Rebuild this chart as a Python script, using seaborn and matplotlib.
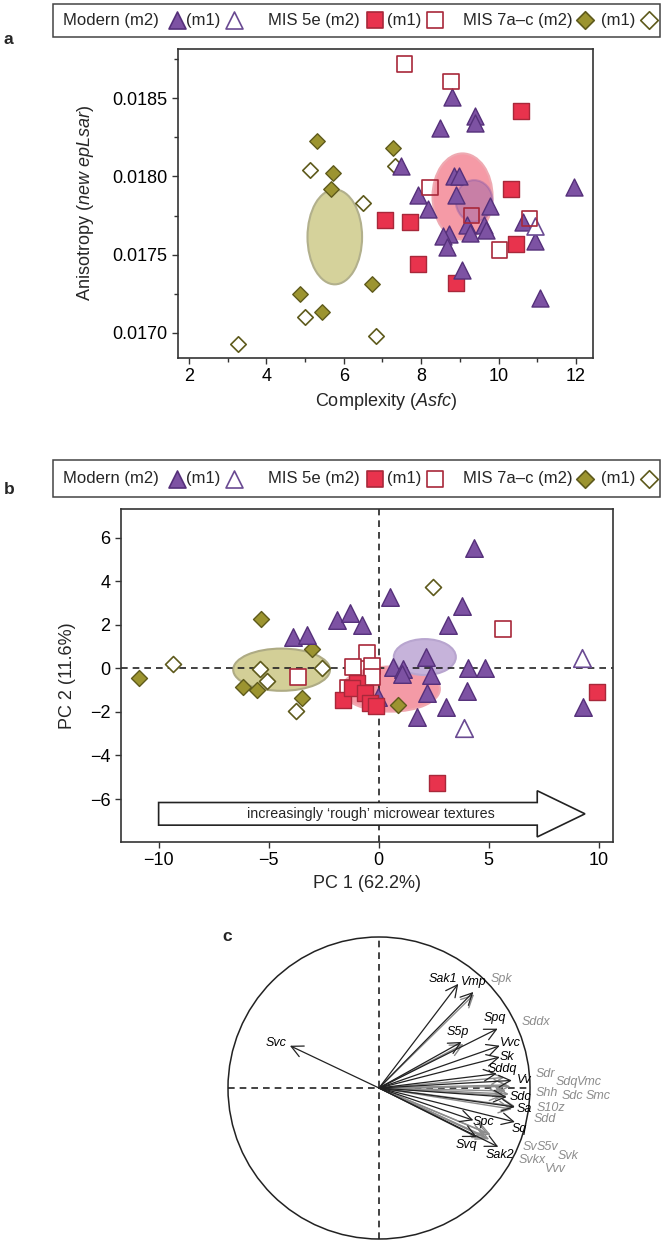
import numpy as np
import pandas as pd
import seaborn as sns
import matplotlib.pyplot as plt
from matplotlib.patches import Ellipse, Circle, FancyArrow, Rectangle

sns.set_theme(style='ticks')
plt.rcParams['font.family'] = ['Liberation Sans', 'DejaVu Sans']
plt.rcParams['mathtext.fontset'] = 'custom'
plt.rcParams['mathtext.it'] = 'Liberation Sans:italic'
plt.rcParams['mathtext.rm'] = 'Liberation Sans'

# ---------------- panel a : complexity vs anisotropy ----------------
a_mod_m2_x = [8.79, 9.39, 9.39, 8.48, 7.47, 8.86, 8.98, 8.89, 7.92, 8.18, 9.78, 9.18,
              9.63, 9.67, 9.27, 10.64, 8.72, 8.57, 8.66, 10.93, 9.06, 11.94, 11.06]
a_mod_m2_y = [0.01851, 0.01839, 0.01834, 0.01831, 0.01807, 0.01800, 0.01800, 0.01788,
              0.01788, 0.01779, 0.01781, 0.01769, 0.01769, 0.01766, 0.01764, 0.01771,
              0.01763, 0.01762, 0.01755, 0.01759, 0.01740, 0.01793, 0.01722]
a_mod_m1_x = [10.95]
a_mod_m1_y = [0.01768]
a_5e_m2_x = [10.58, 10.32, 7.06, 7.72, 10.45, 7.92, 8.89]
a_5e_m2_y = [0.01842, 0.01792, 0.01772, 0.01771, 0.01757, 0.01744, 0.01732]
a_5e_m1_x = [7.58, 8.77, 8.23, 9.31, 10.80, 10.02]
a_5e_m1_y = [0.01872, 0.01861, 0.01793, 0.01775, 0.01773, 0.01753]
a_7_m2_x = [5.32, 7.28, 5.72, 5.68, 6.72, 4.88, 5.45]
a_7_m2_y = [0.01823, 0.01818, 0.01802, 0.01792, 0.01731, 0.01725, 0.01713]
a_7_m1_x = [5.12, 6.50, 5.00, 6.84, 3.26, 7.32]
a_7_m1_y = [0.01804, 0.01783, 0.01710, 0.01698, 0.01693, 0.01807]
# group mean ellipses: centre x, centre y, width, height
a_ell_7 = [5.77, 0.017613, 1.41, 0.000607]
a_ell_5e = [9.07, 0.017872, 1.55, 0.000551]
a_ell_mod = [9.37, 0.017843, 0.95, 0.000267]

# ---------------- panel b : PCA scores ----------------
b_mod_m2_x = [-3.91, -3.25, -1.91, -1.30, -0.77, 0.51, 4.33, 3.77, 3.16, 2.14, 0.66, 1.09,
              1.05, 2.38, 4.05, 4.83, 2.18, 4.00, 3.06, 1.73, 9.27, -0.02]
b_mod_m2_y = [1.45, 1.53, 2.22, 2.53, 1.99, 3.29, 5.54, 2.88, 1.99, 0.53, 0.07, -0.05,
              -0.25, -0.31, 0.00, 0.03, -1.15, -1.03, -1.76, -2.22, -1.76, -1.30]
b_mod_m1_x = [9.23, 3.89]
b_mod_m1_y = [0.46, -2.76]
b_5e_m2_x = [-1.00, -1.61, -1.23, -0.62, -0.40, -0.14, 9.91, 2.64]
b_5e_m2_y = [-0.69, -1.46, -0.92, -1.15, -1.61, -1.72, -1.07, -5.25]
b_5e_m1_x = [-3.68, -0.52, -1.15, -0.32, -1.38, -0.32, 5.66]
b_5e_m1_y = [-0.41, 0.72, 0.05, 0.10, -0.89, -0.38, 1.79]
b_7_m2_x = [-10.90, -5.36, -3.02, -6.15, -5.55, -3.47, 0.89]
b_7_m2_y = [-0.43, 2.26, 0.87, -0.84, -0.97, -1.38, -1.69]
b_7_m1_x = [-9.34, -5.40, -5.09, -2.59, -3.77, 2.48]
b_7_m1_y = [0.20, -0.03, -0.58, 0.03, -1.95, 3.75]
b_ell_7 = [-4.41, -0.06, 4.40, 1.94]
b_ell_5e = [0.55, -0.95, 4.47, 2.07]
b_ell_mod = [2.10, 0.52, 2.82, 1.65]

# ---------------- panel c : variable loadings ----------------
load_k_names = ['Svc', 'Sak1', 'Vmp', 'S5p', 'Spq', 'Vvc', 'Sk', 'Sddq', 'Vv', 'Sdc',
                'Sa', 'Sq', 'Spc', 'Svq', 'Sak2']
load_k_x = [-0.59, 0.525, 0.625, 0.547, 0.786, 0.80, 0.80, 0.78, 0.88, 0.846, 0.90,
            0.90, 0.625, 0.647, 0.79]
load_k_y = [0.28, 0.69, 0.636, 0.305, 0.393, 0.28, 0.205, 0.095, 0.05, -0.06, -0.126,
            -0.225, -0.214, -0.325, -0.39]
load_g_names = ['Spk', 'Sddx', 'Sdr', 'Sdq', 'Vmc', 'Shh', 'Sdc', 'Smc', 'S10z', 'Sdd',
                'Sv', 'S5v', 'Svk', 'Svkx', 'Vvv']
load_g_x = [0.63, 0.56, 0.83, 0.85, 0.87, 0.84, 0.86, 0.82, 0.90, 0.88, 0.72, 0.74,
            0.71, 0.73, 0.70]
load_g_y = [0.62, 0.29, 0.07, 0.02, 0.01, -0.02, -0.04, -0.05, -0.12, -0.14, -0.30,
            -0.31, -0.33, -0.34, -0.32]

# label layout for panel c (x, y, ha)
lab_k_pos = [(-0.61, 0.30, 'right'), (0.425, 0.725, 'center'), (0.625, 0.70, 'center'),
             (0.523, 0.371, 'center'), (0.768, 0.462, 'center'), (0.80, 0.296, 'left'),
             (0.80, 0.205, 'left'), (0.82, 0.128, 'center'), (0.916, 0.051, 'left'),
             (0.868, -0.06, 'left'), (0.912, -0.136, 'left'), (0.879, -0.269, 'left'),
             (0.618, -0.225, 'left'), (0.58, -0.38, 'center'), (0.80, -0.446, 'center')]
lab_g_pos = [(0.74, 0.725), (0.945, 0.437), (1.038, 0.091), (1.172, 0.04), (1.309, 0.04),
             (1.038, -0.03), (1.21, -0.053), (1.371, -0.053), (1.044, -0.13),
             (1.026, -0.203), (0.949, -0.391), (1.044, -0.391), (1.18, -0.45),
             (0.923, -0.479), (1.10, -0.535)]

PUR, PUR_E = '#7d52a3', '#55307a'
RED, RED_E = '#e8334d', '#a8283a'
OLV, OLV_E = '#9c9430', '#5e5a1c'
FS = 13


def draw_group(ax, x, y, marker, size, face, edge, lw=1.0):
    sns.scatterplot(x=x, y=y, marker=marker, s=size, color=face, edgecolor=edge,
                    linewidth=lw, ax=ax, zorder=3, legend=False)


def draw_ell(ax, e, face, edge, alpha=1.0):
    ax.add_patch(Ellipse((e[0], e[1]), e[2], e[3], facecolor=face, edgecolor=edge,
                         lw=1.5, alpha=alpha, zorder=1))


def style_frame(ax):
    for s in ax.spines.values():
        s.set_visible(True)
        s.set_linewidth(1.2)
        s.set_color('#333333')
    ax.tick_params(direction='out', length=4, width=1, colors='#333333',
                   labelsize=FS, labelcolor='black')
    ax.tick_params(which='minor', direction='out', length=3, width=1, colors='#333333')


fig = plt.figure(figsize=(6.69, 12.41), dpi=100)

# ---- panel a ----
ax = fig.add_axes([178 / 669, 1 - 358 / 1241, 415 / 669, 309 / 1241])
draw_ell(ax, a_ell_7, '#d5d29b', '#b2b08c')
draw_ell(ax, a_ell_5e, '#f59aa6', '#eeaab2')
draw_ell(ax, a_ell_mod, '#8a5aa8', '#8a5aa8', alpha=0.42)
draw_group(ax, a_7_m1_x, a_7_m1_y, 'D', 62, 'white', OLV_E, 1.2)
draw_group(ax, a_7_m2_x, a_7_m2_y, 'D', 62, OLV, OLV_E)
draw_group(ax, a_5e_m2_x, a_5e_m2_y, 's', 120, RED, RED_E)
draw_group(ax, a_mod_m2_x, a_mod_m2_y, '^', 150, PUR, PUR_E)
draw_group(ax, a_mod_m1_x, a_mod_m1_y, '^', 150, 'white', '#6a4a92', 1.2)
draw_group(ax, a_5e_m1_x, a_5e_m1_y, 's', 120, 'none', RED_E, 1.2)
ax.set_xlim(1.72, 12.44)
ax.set_ylim(0.016838, 0.018816)
ax.set_xticks([2, 4, 6, 8, 10, 12])
ax.set_xticks([3, 5, 7, 9, 11], minor=True)
ax.set_yticks([0.0170, 0.0175, 0.0180, 0.0185])
ax.set_yticklabels(['0.0170', '0.0175', '0.0180', '0.0185'])
ax.set_yticks([0.01725, 0.01775, 0.01825, 0.01875], minor=True)
ax.set_xlabel('Complexity ($\\it{Asfc}$)', fontsize=FS, labelpad=4)
ax.set_ylabel('Anisotropy ($\\it{new\\ epLsar}$)', fontsize=FS, labelpad=12)
style_frame(ax)

# ---- panel b ----
bx = fig.add_axes([121 / 669, 1 - 841.7 / 1241, 491.7 / 669, 332.7 / 1241])
draw_ell(bx, b_ell_7, '#d3cf97', '#aeab84')
draw_ell(bx, b_ell_5e, '#f49aa6', '#f0a8b0')
draw_ell(bx, b_ell_mod, '#c6b3da', '#b8a5cf')
bx.axhline(0, color='#222222', lw=1.2, ls=(0, (4, 3)), zorder=2)
bx.axvline(0, color='#222222', lw=1.2, ls=(0, (4, 3)), zorder=2)
draw_group(bx, b_7_m1_x, b_7_m1_y, 'D', 66, 'white', OLV_E, 1.2)
draw_group(bx, b_7_m2_x, b_7_m2_y, 'D', 66, OLV, OLV_E)
draw_group(bx, b_mod_m2_x, b_mod_m2_y, '^', 160, PUR, PUR_E)
draw_group(bx, b_mod_m1_x, b_mod_m1_y, '^', 160, 'white', '#6a4a92', 1.2)
draw_group(bx, b_5e_m1_x, b_5e_m1_y, 's', 130, 'white', RED_E, 1.2)
draw_group(bx, b_5e_m2_x, b_5e_m2_y, 's', 130, RED, RED_E)
bx.add_patch(FancyArrow(-10, -6.68, 19.38, 0, width=1.04, head_width=2.12,
                        head_length=2.17, length_includes_head=True,
                        facecolor='white', edgecolor='#222222', lw=1.2, zorder=4))
bx.text(-0.35, -6.68, 'increasingly \u2018rough\u2019 microwear textures', ha='center',
        va='center', fontsize=10.3, zorder=5)
bx.set_xlim(-11.71, 10.64)
bx.set_ylim(-7.96, 7.32)
bx.set_xticks([-10, -5, 0, 5, 10])
bx.set_xticklabels(['\u221210', '\u22125', '0', '5', '10'])
bx.set_yticks([-6, -4, -2, 0, 2, 4, 6])
bx.set_yticklabels(['\u22126', '\u22124', '\u22122', '0', '2', '4', '6'])
bx.set_xlabel('PC 1 (62.2%)', fontsize=FS, labelpad=4)
bx.set_ylabel('PC 2 (11.6%)', fontsize=FS, labelpad=10)
style_frame(bx)

# ---- panel c ----
cx = fig.add_axes([228 / 669, 1 - 1239 / 1241, 302 / 669, 302 / 1241])
cx.set_xlim(-1, 1)
cx.set_ylim(-1, 1)
cx.axis('off')
cx.add_patch(Circle((0, 0), 1, fill=False, lw=1.1, edgecolor='#222222', clip_on=False))
cx.plot([0, 0], [-1, 1], color='#222222', lw=1.2, ls=(0, (4, 3)), clip_on=False)
cx.plot([-1, 1], [0, 0], color='#222222', lw=1.2, ls=(0, (4, 3)), clip_on=False)
for nx, ny in zip(load_g_x, load_g_y):
    cx.annotate('', xy=(nx, ny), xytext=(0, 0),
                arrowprops=dict(arrowstyle='->,head_length=0.7,head_width=0.35',
                                color='#8c8c8c', lw=1.0, shrinkA=0, shrinkB=0))
for nx, ny in zip(load_k_x, load_k_y):
    cx.annotate('', xy=(nx, ny), xytext=(0, 0),
                arrowprops=dict(arrowstyle='->,head_length=0.7,head_width=0.35',
                                color='#222222', lw=0.9, shrinkA=0, shrinkB=0))
for name, (lx, ly, ha) in zip(load_k_names, lab_k_pos):
    cx.text(lx, ly, name, ha=ha, va='center', fontsize=9, style='italic', color='black')
for name, (lx, ly) in zip(load_g_names, lab_g_pos):
    cx.text(lx, ly, name, ha='left', va='center', fontsize=9, style='italic',
            color='#8c8c8c')

# ---- legends and panel letters (pixel overlay) ----
ov = fig.add_axes([0, 0, 1, 1])
ov.set_xlim(0, 669)
ov.set_ylim(1241, 0)
ov.axis('off')
ov.patch.set_visible(False)

leg_text = [('Modern (m2)', 63), ('(m1)', 185.6), ('MIS 5e (m2)', 268), ('(m1)', 387.4),
            ('MIS 7a\u2013c (m2)', 463), ('(m1)', 600.7)]
leg_mark = [(177, '^', 150, PUR, PUR_E), (233.8, '^', 150, 'white', '#6a4a92'),
            (374.6, 's', 140, RED, RED_E), (435, 's', 140, 'white', RED_E),
            (584.5, 'D', 80, OLV, OLV_E), (648.5, 'D', 80, 'white', OLV_E)]
for top, bot, letter, ly in [(4, 36.5, 'a', 39), (460, 497, 'b', 490)]:
    ov.add_patch(Rectangle((53, top), 607, bot - top, fill=False, edgecolor='#444444', lw=1.1))
    yc = (top + bot) / 2
    for t, tx in leg_text:
        ov.text(tx, yc, t, ha='left', va='center', fontsize=12)
    for mx, mk, ms, fc, ec in leg_mark:
        ov.scatter([mx], [yc], marker=mk, s=ms, facecolor=fc, edgecolor=ec, lw=1.2)
    ov.text(4, ly, letter, ha='left', va='center', fontsize=12.5, fontweight='bold')
ov.text(226.7, 936.7, 'c', ha='center', va='center', fontsize=12.5, fontweight='bold')

fig.savefig('out.png', dpi=100)
